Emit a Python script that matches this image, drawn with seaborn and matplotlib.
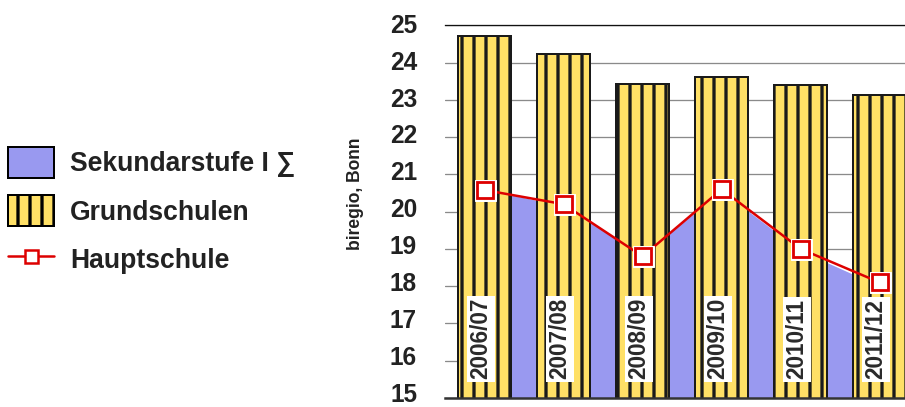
import numpy as np
import pandas as pd
import matplotlib
matplotlib.use("Agg")
import matplotlib.pyplot as plt
import matplotlib.transforms as mtransforms
import seaborn as sns
from matplotlib.patches import Patch
from matplotlib.lines import Line2D

# values
years = ["2006/07", "2007/08", "2008/09", "2009/10", "2010/11", "2011/12"]
grundschulen = [24.71, 24.22, 23.42, 23.61, 23.40, 23.13]
sekundarstufe = [20.60, 20.15, 18.85, 20.55, 18.95, 18.00]
hauptschule = [20.58, 20.20, 18.80, 20.60, 19.00, 18.10]

YELLOW = "#FFE066"
BLUE = "#9999F0"
RED = "#DD0000"
TXT = "#222222"

sns.set_style("white")
plt.rcParams["font.family"] = ["Liberation Sans", "DejaVu Sans"]
plt.rcParams["hatch.linewidth"] = 3.3
plt.rcParams["hatch.color"] = "black"

df = pd.DataFrame({"year": years, "grund": grundschulen,
                   "sek": sekundarstufe, "haupt": hauptschule})

fig = plt.figure(figsize=(905 / 72, 407 / 72), dpi=72)
ax = fig.add_axes([445 / 905, 1 - 398 / 407, 1 - 445 / 905, (398 - 25.3) / 407])

# grid behind everything
ax.set_axisbelow(True)
ax.yaxis.grid(True, color="#8a8a8a", linewidth=1.3)

# area (Sekundarstufe I)
pos = np.arange(len(years))
ax.fill_between(pos, 15, df["sek"], color=BLUE, linewidth=0, zorder=1)

# bars (Grundschulen)
sns.barplot(data=df, x="year", y="grund", ax=ax, color=YELLOW, saturation=1,
            width=0.67, edgecolor="#1a1a1a", linewidth=2, hatch="|", zorder=2)

# line (Hauptschule) with white-rimmed square markers
sns.lineplot(x=pos, y=df["haupt"], ax=ax, color=RED, linewidth=2.5, zorder=4)
ax.plot(pos, df["haupt"], linestyle="none", marker="s", markersize=21,
        markerfacecolor="white", markeredgecolor="white", zorder=5)
ax.plot(pos, df["haupt"], linestyle="none", marker="s", markersize=16,
        markerfacecolor="white", markeredgecolor=RED, markeredgewidth=2.8, zorder=6)

# category labels inside the bars
for i, y in enumerate(years):
    ax.text(i - 0.045, 15.5, y, rotation=90, ha="center", va="bottom",
            fontsize=22.5, fontweight="bold", color="#2a2a2a", zorder=3,
            bbox=dict(facecolor="white", edgecolor="none", pad=2.5))

ax.set_ylim(15, 25)
ax.set_xlim(-0.5, 5.32)
yticks = list(range(15, 26))
ax.set_yticks(yticks)
ax.tick_params(axis="y", length=0, pad=28, labelsize=24.5, labelcolor=TXT)
# the labels sit a little above their grid lines, more so towards the bottom
for v, lab in zip(yticks, ax.get_yticklabels()):
    lab.set_fontweight("bold")
    up = 2 + 0.37 * (25 - v)
    lab.set_transform(lab.get_transform()
                      + mtransforms.ScaledTranslation(0, up / 72, fig.dpi_scale_trans))
ax.set_xticks([])
ax.set_xlabel("")
ax.set_ylabel("")

for s in ["left", "right"]:
    ax.spines[s].set_visible(False)
ax.spines["top"].set_color("#111111")
ax.spines["top"].set_linewidth(1.3)
ax.spines["bottom"].set_color("#333333")
ax.spines["bottom"].set_linewidth(2.5)

fig.text(355 / 905, 1 - 194 / 407, "biregio, Bonn", rotation=90, ha="center",
         va="center", fontsize=17.5, fontweight="bold", color=TXT)

handles = [
    Patch(facecolor=BLUE, edgecolor="black", linewidth=2),
    Patch(facecolor=YELLOW, edgecolor="black", linewidth=2, hatch="|"),
    Line2D([0], [0], color=RED, linewidth=2.5, marker="s", markersize=13,
           markerfacecolor="white", markeredgecolor=RED, markeredgewidth=2.5),
]
labels = ["Sekundarstufe I \u2211", "Grundschulen", "Hauptschule"]
leg = fig.legend(handles, labels, loc="upper left",
                 bbox_to_anchor=(8 / 905, 1 - 147 / 407), frameon=False,
                 prop={"size": 26.5, "weight": "bold"}, handlelength=1.72,
                 handleheight=1.42, labelspacing=0.66, handletextpad=0.62,
                 borderpad=0, borderaxespad=0)
for t in leg.get_texts():
    t.set_color(TXT)

fig.savefig("out.png", dpi=72)
